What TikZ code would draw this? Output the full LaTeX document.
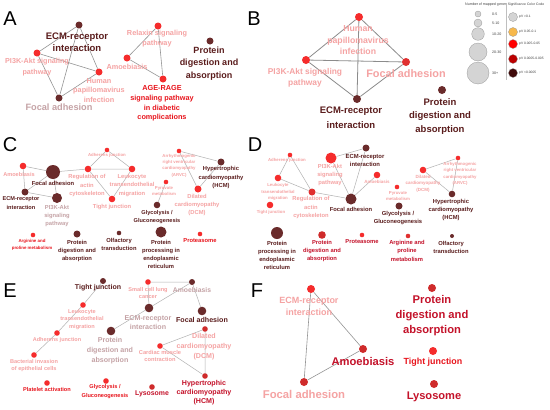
\documentclass[tikz,border=0pt]{standalone}
\usepackage{fontspec}
\setmainfont{Liberation Sans}
\definecolor{dkN}{HTML}{6A2B2B}
\definecolor{dkT}{HTML}{5A1C1C}
\definecolor{rdN}{HTML}{F52C2C}
\definecolor{rd2N}{HTML}{E03030}
\definecolor{pkT}{HTML}{F5A3A3}
\definecolor{gpT}{HTML}{C5A3A6}
\definecolor{brT}{HTML}{E8141C}
\definecolor{crN}{HTML}{CF2B2B}
\definecolor{crT}{HTML}{C4122A}
\definecolor{lgG}{HTML}{D4D4D4}
\definecolor{lgO}{HTML}{F7B84B}
\definecolor{lgR}{HTML}{FF0000}
\definecolor{lgD}{HTML}{BB0000}
\definecolor{lgK}{HTML}{400A0A}
\begin{document}
\begin{tikzpicture}[x=1pt,y=-1pt,
  nd/.style={circle,inner sep=0pt,minimum size=#1},
  lb/.style={inner sep=0pt,align=center},
  fz/.style 2 args={font=\fontsize{#1}{#2}\selectfont\bfseries},
  lg/.style={inner sep=0pt,font=\fontsize{3.6}{4}\selectfont,text=black!75},
  ed/.style={draw=black!42,line width=0.6pt},
  edB/.style={draw=black!45,line width=0.8pt},
  edC/.style={draw=black!30,line width=0.5pt},
  ltr/.style={inner sep=0pt,font=\fontsize{20}{22}\selectfont}]
\useasboundingbox[fill=white] (0,0) rectangle (550,410);

% ---------------- Panel A ----------------
\node[ltr] (LA) at (10,19) {A};
\node[nd=7,fill=dkN] (aECM) at (79,25) {};
\node[nd=7,fill=rdN] (aPI) at (37,53) {};
\node[nd=7,fill=rdN] (aHPV) at (99,72) {};
\node[nd=7,fill=dkN] (aFA) at (59,98) {};
\node[nd=7,fill=rdN] (aRel) at (158,26) {};
\node[nd=7,fill=rdN] (aAmo) at (127,58) {};
\node[nd=7,fill=rdN] (aAGE) at (163,79) {};
\node[nd=7,fill=dkN] (aPro) at (210,41) {};
\draw[ed] (aECM)--(aPI) (aECM)--(aHPV) (aECM)--(aFA) (aPI)--(aHPV) (aPI)--(aFA) (aFA)--(aHPV);
\draw[ed] (aRel)--(aAmo) (aRel)--(aAGE) (aAmo)--(aAGE);
\node[lb,fz={9.5}{12.5},text=dkT] (aECMl) at (77,42) {ECM-receptor\\interaction};
\node[lb,fz={7.2}{11},text=pkT] (aPIl) at (37,67.5) {PI3K-Akt signaling\\pathway};
\node[lb,fz={7.3}{9.7},text=pkT] (aHPVl) at (99,90.5) {Human\\papillomavirus\\infection};
\node[lb,fz={9.2}{11},text=gpT] (aFAl) at (59,107) {Focal adhesion};
\node[lb,fz={7.3}{10},text=pkT] (aRell) at (157,39) {Relaxin signaling\\pathway};
\node[lb,fz={7.3}{9},text=pkT] (aAmol) at (127,67) {Amoebiasis};
\node[lb,fz={7.3}{9.7},text=brT] (aAGEl) at (162,103.5) {AGE-RAGE\\signaling pathway\\in diabetic\\complications};
\node[lb,fz={9}{12.5},text=dkT] (aProl) at (209,63.5) {Protein\\digestion and\\absorption};

% ---------------- Panel B ----------------
\node[ltr] (LB) at (254,19) {B};
\node[nd=8,fill=rdN] (bHPV) at (359,17) {};
\node[nd=8,fill=rdN] (bPI) at (306,60) {};
\node[nd=8,fill=rd2N] (bFA) at (406,62) {};
\node[nd=8,fill=dkN] (bECM) at (357,99) {};
\node[nd=8,fill=dkN] (bPro) at (442,90) {};
\draw[edB] (bHPV)--(bPI) (bHPV)--(bFA) (bHPV)--(bECM) (bPI)--(bFA) (bPI)--(bECM) (bFA)--(bECM);
\node[lb,fz={8.7}{11.5},text=pkT] (bHPVl) at (358,40.5) {Human\\papillomavirus\\infection};
\node[lb,fz={8.4}{11},text=pkT] (bPIl) at (305,77.5) {PI3K-Akt signaling\\pathway};
\node[lb,fz={10.9}{12},text=pkT] (bFAl) at (406,74) {Focal adhesion};
\node[lb,fz={9.5}{15},text=dkT] (bECMl) at (351,117.5) {ECM-receptor\\interaction};
\node[lb,fz={9.5}{13.5},text=dkT] (bProl) at (440,116.5) {Protein\\digestion and\\absorption};

% ---------------- Legend ----------------
\node[lg] (lgH1) at (486,5) {Number of mapped genes};
\node[lg,font=\fontsize{3.4}{4}\selectfont] (lgH2) at (526,5) {Significance Color Code};
\coordinate (sepT) at (506,3);
\coordinate (sepB) at (506,80);
\draw[black!25,line width=0.4pt] (sepT)--(sepB);
\foreach \y/\d/\t [count=\i] in {14/6/0-5, 23/8/5-10, 34/12.6/10-20, 52/18/20-30, 73/22/30+}{
  \node[nd=\d,fill=lgG,draw=black!40,line width=0.3pt] (sz\i) at (478,\y) {};
  \node[lg,anchor=west] (szl\i) at (492,\y) {\t};
}
\foreach \y/\c/\t [count=\i] in {17/lgG/pV >0.1, 32/lgO/pV 0.05-0.1, 44/lgR/pV 0.005-0.05, 59/lgD/pV 0.0005-0.005, 73/lgK/pV <0.0005}{
  \node[nd=9,fill=\c,draw=black!40,line width=0.3pt] (cc\i) at (513,\y) {};
  \node[lg,anchor=west,font=\fontsize{3.3}{4}\selectfont] (ccl\i) at (519,\y) {\t};
}

% ---------------- Panel C ----------------
\node[ltr] (LC) at (10,145) {C};
\node[nd=6.6,fill=rdN] (cAmo) at (23,166) {};
\node[nd=14,fill=dkN] (cFA) at (53,172) {};
\node[nd=7,fill=dkN] (cECM) at (25,192) {};
\node[nd=10,fill=dkN] (cPI) at (57,198) {};
\node[nd=6.6,fill=rdN] (cReg) at (88,169) {};
\node[nd=4.6,fill=rdN] (cAdh) at (107,150) {};
\node[nd=6.6,fill=rdN] (cLeu) at (132,169) {};
\node[nd=6.6,fill=rdN] (cTJ) at (112,199) {};
\node[nd=4.6,fill=rdN] (cARVC) at (179,151) {};
\node[nd=7,fill=dkN] (cHCM) at (221,162) {};
\node[nd=7,fill=rdN] (cDCM) at (198,189) {};
\node[nd=4.6,fill=rdN] (cPyr) at (166,182) {};
\node[nd=6.6,fill=dkN] (cGly) at (157,205) {};
\node[nd=4.6,fill=rdN] (cArg) at (33,235) {};
\node[nd=7,fill=dkN] (cPro) at (77,234) {};
\node[nd=4.6,fill=dkN] (cOlf) at (119,233) {};
\node[nd=11,fill=dkN] (cPP) at (161,232) {};
\node[nd=4.6,fill=rdN] (cPtsm) at (200,234) {};
\draw[edC] (cAmo)--(cFA) (cAmo)--(cECM) (cFA)--(cECM) (cFA)--(cPI) (cECM)--(cPI) (cFA)--(cReg);
\draw[edC] (cReg)--(cAdh) (cReg)--(cLeu) (cReg)--(cTJ) (cAdh)--(cLeu) (cLeu)--(cTJ);
\draw[edC] (cARVC)--(cHCM) (cARVC)--(cDCM) (cDCM)--(cHCM) (cPyr)--(cGly);
\node[lb,fz={5.6}{8},text=pkT] (cAmol) at (19,174) {Amoebiasis};
\node[lb,fz={5.8}{8},text=dkT] (cFAl) at (53,183) {Focal adhesion};
\node[lb,fz={5.6}{9},text=dkT] (cECMl) at (21,203.5) {ECM-receptor\\interaction};
\node[lb,fz={5.8}{8.3},text=gpT] (cPIl) at (57,216) {PI3K-Akt\\signaling\\pathway};
\node[lb,fz={5.8}{8.5},text=pkT] (cRegl) at (87,185.5) {Regulation of\\actin\\cytoskeleton};
\node[lb,fz={4.3}{6},text=pkT] (cAdhl) at (107,155) {Adherens junction};
\node[lb,fz={5.8}{8.5},text=pkT] (cLeul) at (132,185.5) {Leukocyte\\transendothelial\\migration};
\node[lb,fz={5.8}{8},text=pkT] (cTJl) at (112,207) {Tight junction};
\node[lb,fz={4.3}{6.3},text=pkT] (cARVCl) at (179,165.5) {Arrhythmogenic\\right ventricular\\cardiomyopathy\\(ARVC)};
\node[lb,fz={5.8}{8.5},text=dkT] (cHCMl) at (221,177.5) {Hypertrophic\\cardiomyopathy\\(HCM)};
\node[lb,fz={5.8}{8},text=pkT] (cDCMl) at (197,205) {Dilated\\cardiomyopathy\\(DCM)};
\node[lb,fz={4.3}{6},text=pkT] (cPyrl) at (164,191) {Pyruvate\\metabolism};
\node[lb,fz={5.6}{8.3},text=dkT] (cGlyl) at (157,217) {Glycolysis /\\Gluconeogenesis};
\node[lb,fz={4.4}{7},text=brT] (cArgl) at (32,244.5) {Arginine and\\proline metabolism};
\node[lb,fz={5.8}{8},text=dkT] (cProl) at (77,251) {Protein\\digestion and\\absorption};
\node[lb,fz={5.8}{8},text=dkT] (cOlfl) at (119,244) {Olfactory\\transduction};
\node[lb,fz={5.8}{8},text=dkT] (cPPl) at (161,254) {Protein\\processing in\\endoplasmic\\reticulum};
\node[lb,fz={5.8}{8},text=brT] (cPtsml) at (200,241) {Proteasome};

% ---------------- Panel D ----------------
\node[ltr] (LD) at (255,145) {D};
\node[nd=4.6,fill=rdN] (dAdh) at (290,155) {};
\node[nd=6.6,fill=rdN] (dLeu) at (278,178) {};
\node[nd=6.6,fill=rdN] (dTJ) at (270,205) {};
\node[nd=7,fill=rd2N] (dReg) at (312,192) {};
\node[nd=11,fill=rdN] (dPI) at (331,158) {};
\node[nd=7,fill=dkN] (dECM) at (366,148) {};
\node[nd=6.6,fill=rdN] (dAmo) at (377,175) {};
\node[nd=11,fill=dkN] (dFA) at (351,199) {};
\node[nd=4.6,fill=rdN] (dPyr) at (397,187) {};
\node[nd=7,fill=dkN] (dGly) at (399,206) {};
\node[nd=4.6,fill=rdN] (dARVC) at (458,158) {};
\node[nd=6.6,fill=rdN] (dDCM) at (423,170) {};
\node[nd=6.6,fill=dkN] (dHCM) at (452,194) {};
\node[nd=12,fill=dkN] (dPP) at (277,233) {};
\node[nd=7.6,fill=crN] (dPD) at (322,235) {};
\node[nd=4.6,fill=rdN] (dPtsm) at (362,235) {};
\node[nd=4.6,fill=rd2N] (dArg) at (408,236) {};
\node[nd=4,fill=dkN] (dOlf) at (452,236) {};
\draw[edC] (dAdh)--(dLeu) (dAdh)--(dReg) (dLeu)--(dReg) (dReg)--(dFA);
\draw[edC] (dPI)--(dFA) (dPI)--(dECM) (dECM)--(dFA) (dAmo)--(dFA);
\draw[edC] (dARVC)--(dDCM) (dDCM)--(dHCM) (dARVC)--(dHCM);
\node[lb,fz={4.3}{6},text=pkT] (dAdhl) at (287,160) {Adherens junction};
\node[lb,fz={4.3}{6.5},text=pkT] (dLeul) at (278,192) {Leukocyte\\transendothelial\\migration};
\node[lb,fz={4.3}{6},text=pkT] (dTJl) at (271,212) {Tight junction};
\node[lb,fz={5.8}{8.5},text=pkT] (dRegl) at (311,207.5) {Regulation of\\actin\\cytoskeleton};
\node[lb,fz={5.8}{8},text=pkT] (dPIl) at (330,175) {PI3K-Akt\\signaling\\pathway};
\node[lb,fz={5.9}{8},text=dkT] (dECMl) at (365,160) {ECM-receptor\\interaction};
\node[lb,fz={4.5}{6},text=pkT] (dAmol) at (377,182) {Amoebiasis};
\node[lb,fz={5.8}{8},text=dkT] (dFAl) at (351,209) {Focal adhesion};
\node[lb,fz={4.3}{6},text=pkT] (dPyrl) at (398,196) {Pyruvate\\metabolism};
\node[lb,fz={5.8}{8},text=dkT] (dGlyl) at (398,218) {Glycolysis /\\Gluconeogenesis};
\node[lb,fz={4.3}{6.5},text=pkT] (dARVCl) at (460,174) {Arrhythmogenic\\right ventricular\\cardiomyopathy\\(ARVC)};
\node[lb,fz={4.5}{6.5},text=pkT] (dDCMl) at (423,183.5) {Dilated\\cardiomyopathy\\(DCM)};
\node[lb,fz={5.8}{8},text=dkT] (dHCMl) at (451,210) {Hypertrophic\\cardiomyopathy\\(HCM)};
\node[lb,fz={5.8}{8},text=dkT] (dPPl) at (277,255) {Protein\\processing in\\endoplasmic\\reticulum};
\node[lb,fz={5.8}{8},text=crT] (dPDl) at (322,251) {Protein\\digestion and\\absorption};
\node[lb,fz={5.8}{8},text=crT] (dPtsml) at (362,242) {Proteasome};
\node[lb,fz={5.8}{8.5},text=crT] (dArgl) at (407,250.5) {Arginine and\\proline\\metabolism};
\node[lb,fz={5.8}{8.5},text=dkT] (dOlfl) at (451,247.5) {Olfactory\\transduction};

% ---------------- Panel E ----------------
\node[ltr] (LE) at (10,291) {E};
\node[nd=6,fill=dkN] (eTJ) at (103,281) {};
\node[nd=5.6,fill=rdN] (eLeu) at (83,305) {};
\node[nd=5.6,fill=rdN] (eAdh) at (57,333) {};
\node[nd=5.6,fill=rdN] (eBac) at (34,355) {};
\node[nd=5.6,fill=rdN] (eSCL) at (148,282) {};
\node[nd=6,fill=dkN] (eAmo) at (192,282) {};
\node[nd=8.6,fill=dkN] (eECM) at (149,308) {};
\node[nd=8.6,fill=dkN] (eFA) at (202,311) {};
\node[nd=8.6,fill=dkN] (ePro) at (111,331) {};
\node[nd=5.6,fill=crN] (eDCM) at (205,329) {};
\node[nd=5.6,fill=rdN] (eCar) at (160,346) {};
\node[nd=5.6,fill=crN] (eHCM) at (205,376) {};
\node[nd=5.6,fill=rdN] (ePlt) at (47,383) {};
\node[nd=5.6,fill=rdN] (eGly) at (106,381) {};
\node[nd=5.6,fill=crN] (eLys) at (152,387) {};
\draw[edC] (eTJ)--(eLeu) (eLeu)--(eAdh) (eAdh)--(eBac);
\draw[edC] (eSCL)--(eAmo) (eSCL)--(eECM) (eECM)--(eAmo) (eAmo)--(eFA) (eECM)--(ePro);
\draw[edC] (eDCM)--(eCar) (eCar)--(eHCM) (eDCM)--(eHCM);
\node[lb,fz={7}{9},text=dkT] (eTJl) at (98,288) {Tight junction};
\node[lb,fz={5.6}{7.5},text=pkT] (eLeul) at (82,319.5) {Leukocyte\\transendothelial\\migration};
\node[lb,fz={5.5}{7},text=pkT] (eAdhl) at (57,340) {Adherens junction};
\node[lb,fz={5.6}{7.3},text=pkT] (eBacl) at (34,365.5) {Bacterial invasion\\of epithelial cells};
\node[lb,fz={5.6}{7.7},text=pkT] (eSCLl) at (148,293) {Small cell lung\\cancer};
\node[lb,fz={6.8}{9},text=gpT] (eAmol) at (192,290) {Amoebiasis};
\node[lb,fz={7.1}{9},text=gpT] (eECMl) at (148,322.5) {ECM-receptor\\interaction};
\node[lb,fz={7.1}{9},text=dkT] (eFAl) at (202,320) {Focal adhesion};
\node[lb,fz={7.1}{9.7},text=gpT] (eProl) at (110,350.5) {Protein\\digestion and\\absorption};
\node[lb,fz={7.1}{10},text=pkT] (eDCMl) at (204,347) {Dilated\\cardiomyopathy\\(DCM)};
\node[lb,fz={5.7}{6.7},text=pkT] (eCarl) at (160,356) {Cardiac muscle\\contraction};
\node[lb,fz={7.1}{9},text=crT] (eHCMl) at (204,393) {Hypertrophic\\cardiomyopathy\\(HCM)};
\node[lb,fz={5.6}{7},text=brT] (ePltl) at (47,389) {Platelet activation};
\node[lb,fz={5.6}{8.3},text=brT] (eGlyl) at (105,391.5) {Glycolysis /\\Gluconeogenesis};
\node[lb,fz={6.9}{9},text=crT] (eLysl) at (152,394) {Lysosome};

% ---------------- Panel F ----------------
\node[ltr] (LF) at (257,291) {F};
\node[nd=8,fill=rdN] (fECM) at (311,289) {};
\node[nd=8,fill=crN] (fAmo) at (363,349) {};
\node[nd=8,fill=crN] (fFA) at (304,382) {};
\node[nd=8,fill=crN] (fPro) at (432,288) {};
\node[nd=8,fill=rdN] (fTJ) at (433,351) {};
\node[nd=8,fill=crN] (fLys) at (434,384) {};
\draw[ed] (fECM)--(fAmo) (fECM)--(fFA) (fFA)--(fAmo);
\node[lb,fz={9}{12},text=pkT] (fECMl) at (309,306) {ECM-receptor\\interaction};
\node[lb,fz={11.2}{13},text=crT] (fAmol) at (363,361) {Amoebiasis};
\node[lb,fz={11.3}{13},text=pkT] (fFAl) at (304,394.5) {Focal adhesion};
\node[lb,fz={11.2}{15},text=crT] (fProl) at (432,316) {Protein\\digestion and\\absorption};
\node[lb,fz={8.9}{11},text=brT] (fTJl) at (433,362) {Tight junction};
\node[lb,fz={11.1}{13},text=crT] (fLysl) at (434,397) {Lysosome};
\end{tikzpicture}
\end{document}
